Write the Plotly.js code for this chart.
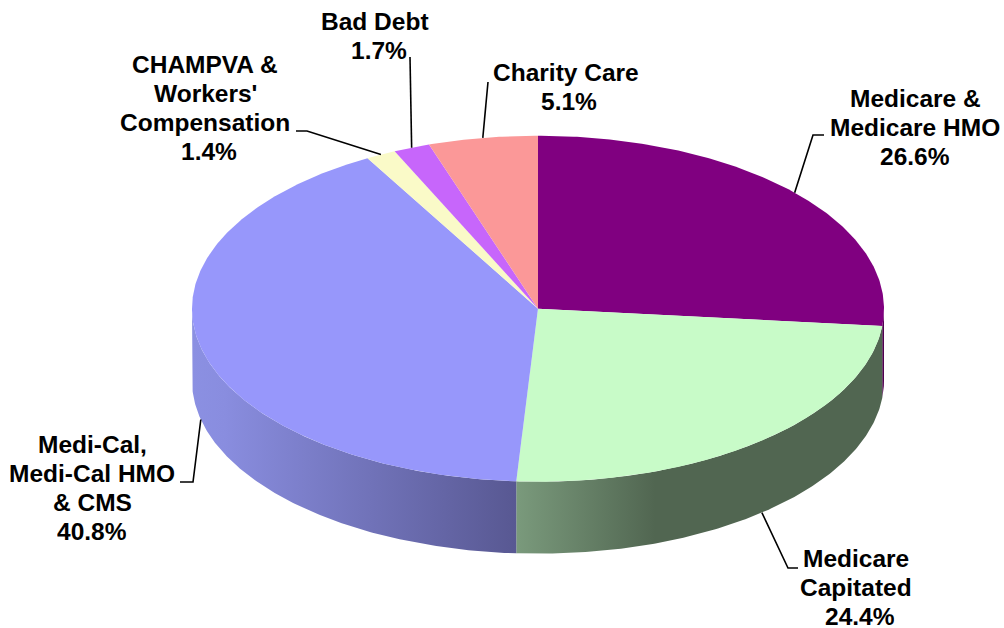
<!DOCTYPE html>
<html>
<head>
<meta charset="utf-8">
<script src="https://cdn.plot.ly/plotly-3.0.1.min.js"></script>
<style>html,body{margin:0;padding:0;background:#fff}#chart{width:1004px;height:628px}</style>
</head>
<body>
<div id="chart"></div>
<script>
// Data, clockwise from 12 o'clock
const categories = [["Medicare &", "Medicare HMO"], ["Medicare", "Capitated"], ["Medi-Cal,", "Medi-Cal HMO", "& CMS"], ["CHAMPVA &", "Workers'", "Compensation"], ["Bad Debt"], ["Charity Care"]];
const shares = [26.6, 24.4, 40.8, 1.4, 1.7, 5.1];
const topColors = ["#800080", "#c8fbc8", "#9797fb", "#fafac8", "#c766fb", "#fb9898"];
const sideScales = [
  [[0, "#500050"], [1, "#500050"]],
  [[0, "#7a9a7c"], [0.38, "#516651"], [1, "#516651"]],
  [[0, "#8b90e2"], [0.1, "#898ddf"], [1, "#585892"]],
  null, null, null
];
// Label placement (centre of text block) and leader elbow(s), in page pixels
const labelX = [915, 856, 92, 205, 375, 566];
const labelY = [127.5, 587.5, 488, 108, 35.5, 87];
const percentShiftX = [0, 4, 0, 4, 4, 3];
const leaderElbows = [
  [[813, 135], [824, 135]],
  [[788, 568], [798, 568]],
  [[193, 482], [180, 482]],
  [[307, 131], [296, 131]],
  [[410, 57]],
  [[488, 82]]
];
// Pie geometry
const cx = 538, cy = 308.7, rx = 346, ry = 173, depth = 72;
const lineStep = 28.7;

const px = a => cx + rx * Math.sin(a * Math.PI / 180);
const py = a => cy - ry * Math.cos(a * Math.PI / 180);
function arc(a0, a1) {
  const n = Math.max(2, Math.ceil(Math.abs(a1 - a0) * 2)), out = [];
  for (let i = 0; i <= n; i++) out.push(a0 + (a1 - a0) * i / n);
  return out;
}
const total = shares.reduce((s, v) => s + v, 0);
let cum = 0;
const slices = shares.map((v, i) => {
  const a0 = cum / total * 360; cum += v;
  const a1 = cum / total * 360;
  return {i, a0, a1, mid: (a0 + a1) / 2};
});

const traces = [];
// Sides (only the front half of the rim is visible)
slices.forEach(s => {
  const lo = Math.max(s.a0, 90), hi = Math.min(s.a1, 270);
  if (hi <= lo || !sideScales[s.i]) return;
  const a = arc(lo, hi), r = a.slice().reverse();
  traces.push({
    type: "scatter", mode: "lines", hoverinfo: "skip", showlegend: false,
    x: a.map(px).concat(r.map(px)),
    y: a.map(py).concat(r.map(t => py(t) + depth)),
    line: {width: 0}, fill: "toself",
    fillgradient: {type: "horizontal", colorscale: sideScales[s.i]}
  });
});
// Top faces
slices.forEach(s => {
  const a = arc(s.a0, s.a1);
  traces.push({
    type: "scatter", mode: "lines", hoverinfo: "skip", showlegend: false,
    x: [cx].concat(a.map(px), [cx]),
    y: [cy].concat(a.map(py), [cy]),
    line: {width: 0}, fill: "toself", fillcolor: topColors[s.i]
  });
});
// Leader lines
slices.forEach(s => {
  const front = s.mid > 90 && s.mid < 270;
  const sx = px(s.mid), sy = py(s.mid) + (front ? depth : 0);
  const el = leaderElbows[s.i];
  traces.push({
    type: "scatter", mode: "lines", hoverinfo: "skip", showlegend: false,
    x: [sx].concat(el.map(p => p[0])),
    y: [sy].concat(el.map(p => p[1])),
    line: {color: "#000", width: 1.6}
  });
});

const annotations = [];
slices.forEach(s => {
  const lines = categories[s.i].concat([shares[s.i].toFixed(1) + "%"]);
  lines.forEach((t, k) => {
    const isPct = k === lines.length - 1;
    const ann = {
      xref: "x", yref: "y", x: labelX[s.i] + (isPct ? percentShiftX[s.i] : 0),
      y: labelY[s.i] + (k - (lines.length - 1) / 2) * lineStep,
      xanchor: "center", yanchor: "middle", align: "center", showarrow: false,
      text: "<b>" + t + "</b>",
      font: {family: "Liberation Sans, Arial, sans-serif", size: 24.5, color: "#000"}
    };
    if (isPct) { ann.height = 22; ann.borderpad = 0; ann.valign = "middle"; }
    annotations.push(ann);
  });
});

const hidden = {visible: false, fixedrange: true, showgrid: false, zeroline: false};
Plotly.newPlot("chart", traces, {
  width: 1004, height: 628,
  margin: {l: 0, r: 0, t: 0, b: 0},
  paper_bgcolor: "#fff", plot_bgcolor: "#fff", showlegend: false,
  xaxis: Object.assign({range: [0, 1004]}, hidden),
  yaxis: Object.assign({range: [628, 0]}, hidden),
  annotations
}, {displayModeBar: false, staticPlot: true});
</script>
</body>
</html>
